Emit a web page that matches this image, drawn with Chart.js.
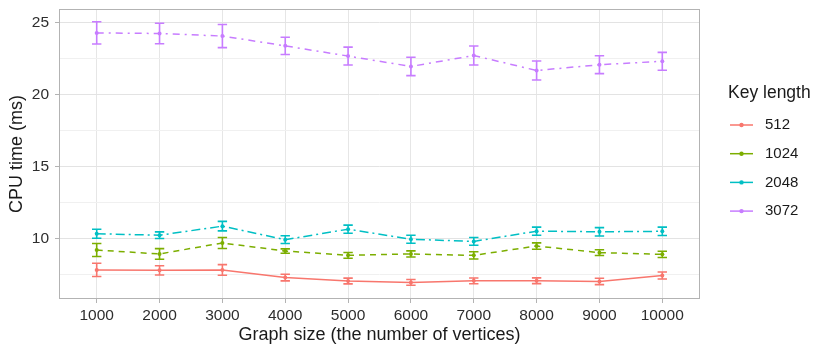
<!DOCTYPE html>
<html>
<head>
<meta charset="utf-8">
<script src="https://cdn.jsdelivr.net/npm/chart.js@4/dist/chart.umd.min.js"></script>
<style>
  body { margin: 0; background: #fff; }
  #wrap { width: 830px; height: 356px; }
</style>
</head>
<body>
<div id="wrap"><canvas id="cpuChart" width="830" height="356"></canvas></div>
<script>
// graph sizes on the x axis
var categories = ["1000", "2000", "3000", "4000", "5000", "6000", "7000", "8000", "9000", "10000"];
var keyLengths = ["512", "1024", "2048", "3072"];
var yTicks = [10, 15, 20, 25];
var yMinor = [7.5, 12.5, 17.5, 22.5];

// mean CPU time (ms) per key length
var cpu512  = [7.80, 7.77, 7.80, 7.27, 7.03, 6.93, 7.04, 7.05, 7.00, 7.41];
var cpu1024 = [9.18, 8.91, 9.67, 9.11, 8.81, 8.91, 8.81, 9.46, 9.00, 8.88];
var cpu2048 = [10.31, 10.21, 10.84, 9.90, 10.63, 9.93, 9.78, 10.49, 10.45, 10.48];
var cpu3072 = [24.26, 24.22, 24.04, 23.36, 22.65, 21.93, 22.69, 21.65, 22.05, 22.29];

// half width of the error bars
var err512  = [0.46, 0.32, 0.37, 0.23, 0.20, 0.20, 0.20, 0.20, 0.22, 0.24];
var err1024 = [0.45, 0.37, 0.38, 0.15, 0.20, 0.21, 0.25, 0.22, 0.20, 0.22];
var err2048 = [0.31, 0.23, 0.33, 0.27, 0.28, 0.28, 0.27, 0.28, 0.29, 0.29];
var err3072 = [0.77, 0.71, 0.80, 0.60, 0.62, 0.64, 0.66, 0.66, 0.62, 0.62];

var colors = ["#F8766D", "#7CAE00", "#00BFC4", "#C77CFF"];
var dashes = [[], [6, 5], [9, 4, 2, 4], [7, 5, 2, 5]];
var means = [cpu512, cpu1024, cpu2048, cpu3072];
var errs = [err512, err1024, err2048, err3072];

var fontFamily = "'Liberation Sans', Arial, sans-serif";
var tickColor = "#2E2E2E";

var datasets = [];
for (var i = 0; i < keyLengths.length; i++) {
    datasets.push({
        label: keyLengths[i],
        data: means[i].map(function(v, j) { return { x: j, y: v }; }),
        err: errs[i],
        borderColor: colors[i],
        backgroundColor: colors[i],
        borderWidth: 1.5,
        borderDash: dashes[i],
        pointRadius: 2,
        pointHoverRadius: 2,
        pointBorderWidth: 0,
        tension: 0
    });
}

/* error bars, drawn with the chart's own scales */
var errorBars = {
    id: "errorBars",
    afterDatasetsDraw: function(chart) {
        var ctx = chart.ctx;
        var xs = chart.scales.x, ys = chart.scales.y;
        ctx.save();
        chart.data.datasets.forEach(function(ds) {
            ctx.strokeStyle = ds.borderColor;
            ctx.lineWidth = 1.6;
            ctx.setLineDash([]);
            ds.data.forEach(function(p, j) {
                var x = xs.getPixelForValue(p.x);
                var top = ys.getPixelForValue(p.y + ds.err[j]);
                var bot = ys.getPixelForValue(p.y - ds.err[j]);
                ctx.beginPath();
                ctx.moveTo(x, top); ctx.lineTo(x, bot);
                ctx.moveTo(x - 4.7, top); ctx.lineTo(x + 4.7, top);
                ctx.moveTo(x - 4.7, bot); ctx.lineTo(x + 4.7, bot);
                ctx.stroke();
            });
        });
        ctx.restore();
    }
};

/* panel border and the ggplot style legend on the right */
var panelAndLegend = {
    id: "panelAndLegend",
    afterDraw: function(chart) {
        var ctx = chart.ctx;
        var a = chart.chartArea;
        ctx.save();
        ctx.strokeStyle = "#B3B3B3";
        ctx.lineWidth = 1;
        ctx.strokeRect(a.left + 0.5, a.top + 0.5, a.right - a.left - 1, a.bottom - a.top - 1);

        ctx.fillStyle = "#1A1A1A";
        ctx.textBaseline = "middle";
        ctx.textAlign = "left";
        ctx.font = "17.5px " + fontFamily;
        ctx.fillText("Key length", 728, 93);

        ctx.font = "15px " + fontFamily;
        chart.data.datasets.forEach(function(ds, k) {
            var y = 125 + k * 28.7;
            ctx.strokeStyle = ds.borderColor;
            ctx.lineWidth = 1.5;
            ctx.beginPath();
            ctx.moveTo(730, y); ctx.lineTo(753, y);
            ctx.stroke();
            ctx.fillStyle = ds.borderColor;
            ctx.beginPath();
            ctx.arc(741.5, y, 2.2, 0, Math.PI * 2);
            ctx.fill();
            ctx.fillStyle = "#1A1A1A";
            ctx.fillText(ds.label, 765, y);
        });
        ctx.restore();
    }
};

new Chart(document.getElementById("cpuChart"), {
    type: "line",
    data: { datasets: datasets },
    options: {
        responsive: false,
        devicePixelRatio: 1,
        animation: false,
        events: [],
        layout: { padding: { top: 9, right: 130, left: 0, bottom: 0 } },
        plugins: { legend: { display: false }, tooltip: { enabled: false } },
        scales: {
            x: {
                type: "linear",
                min: -0.6,
                max: 9.6,
                afterBuildTicks: function(scale) {
                    scale.ticks = categories.map(function(c, j) { return { value: j }; });
                },
                afterFit: function(scale) {
                    scale.height = 57;
                    scale.paddingLeft = 0;
                    scale.paddingRight = 0;
                },
                ticks: {
                    autoSkip: false,
                    maxRotation: 0,
                    padding: 3,
                    color: tickColor,
                    font: { family: fontFamily, size: 15.5 },
                    callback: function(v) { return categories[v]; }
                },
                grid: { color: "#E6E6E6", lineWidth: 1, tickLength: 4, tickColor: "#B3B3B3" },
                border: { display: false },
                title: {
                    display: true,
                    text: "Graph size (the number of vertices)",
                    color: "#1A1A1A",
                    font: { family: fontFamily, size: 18 },
                    padding: { top: 0, bottom: 10 }
                }
            },
            y: {
                min: 5.78,
                max: 25.92,
                afterBuildTicks: function(scale) {
                    scale.ticks = yMinor.concat(yTicks).sort(function(a, b) { return a - b; })
                        .map(function(v) { return { value: v }; });
                },
                afterFit: function(scale) {
                    scale.width = 59;
                    scale.paddingTop = 0;
                    scale.paddingBottom = 0;
                },
                ticks: {
                    padding: 6,
                    color: tickColor,
                    font: { family: fontFamily, size: 15.5 },
                    callback: function(v) { return yTicks.indexOf(v) >= 0 ? String(v) : ""; }
                },
                grid: {
                    color: function(c) { return yTicks.indexOf(c.tick.value) >= 0 ? "#E3E3E3" : "#F0F0F0"; },
                    lineWidth: 1,
                    tickLength: 4,
                    tickColor: function(c) { return yTicks.indexOf(c.tick.value) >= 0 ? "#B3B3B3" : "rgba(0,0,0,0)"; }
                },
                border: { display: false },
                title: {
                    display: true,
                    text: "CPU time (ms)",
                    color: "#1A1A1A",
                    font: { family: fontFamily, size: 18 },
                    padding: { top: 6, bottom: 0 }
                }
            }
        }
    },
    plugins: [errorBars, panelAndLegend]
});
</script>
</body>
</html>
